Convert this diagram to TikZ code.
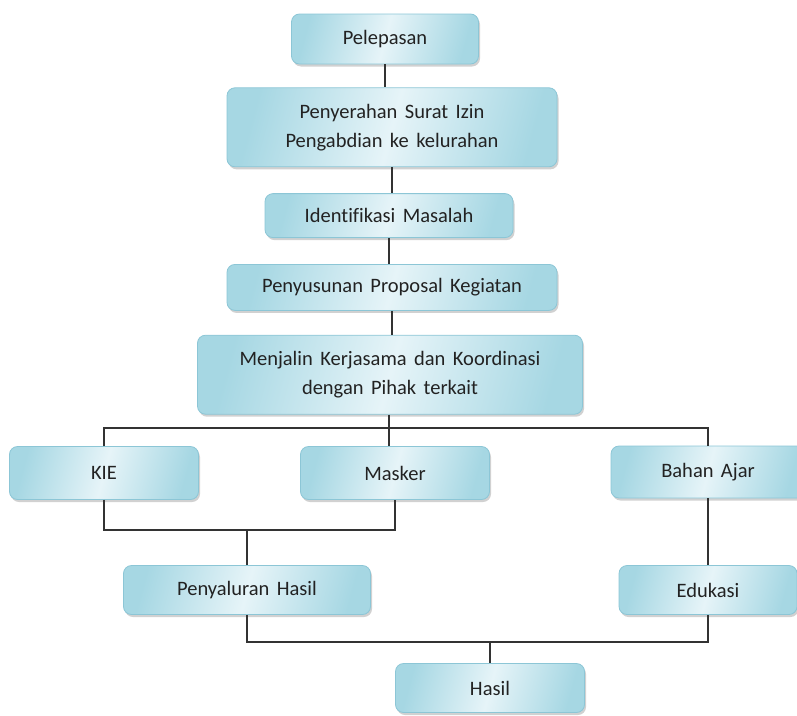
\documentclass[tikz,border=0pt]{standalone}
\usepackage{fontspec}
\setmainfont{Carlito}[WordSpace=1.6,Ligatures=NoCommon]
\usetikzlibrary{positioning,shadows}
\definecolor{boxedge}{HTML}{8CC6D6}
\definecolor{boxdark}{HTML}{A6D7E3}
\definecolor{boxlight}{HTML}{E6F4F8}
\definecolor{boxtext}{HTML}{222222}
\tikzset{
flowbox/.style={rectangle,rounded corners=8pt,draw=boxedge,line width=0.8pt,
  left color=boxdark,right color=boxdark,middle color=boxlight,shading angle=75,
  drop shadow={shadow xshift=1.5pt,shadow yshift=-2.5pt,opacity=0.3,fill=black!60},
  text=boxtext,align=center,inner sep=2pt,
  font=\fontsize{20.5}{29}\selectfont},
flowline/.style={draw=black!80,line width=1.1pt}
}

\begin{document}
\begin{tikzpicture}[x=1pt,y=1pt]
\useasboundingbox (0,0) rectangle (797,-715);
% main column
\node[flowbox,minimum width=187pt,minimum height=50pt] (lepas) at (385,-39) {Pelepasan};
\node[flowbox,minimum width=330pt,minimum height=79pt,below=23pt of lepas,xshift=7pt] (izin) {Penyerahan Surat Izin\\Pengabdian ke kelurahan};
\node[flowbox,minimum width=248pt,minimum height=44pt,below=26pt of izin,xshift=-3pt] (ident) {Identifikasi Masalah};
\node[flowbox,minimum width=330pt,minimum height=46pt,below=26pt of ident,xshift=3pt] (prop) {Penyusunan Proposal Kegiatan};
\node[flowbox,minimum width=385pt,minimum height=79pt,below=24pt of prop,xshift=-2pt] (kerja) {Menjalin Kerjasama dan Koordinasi\\dengan Pihak terkait};
% branches
\node[flowbox,minimum width=189pt,minimum height=53pt] (kie) at (104,-473) {KIE};
\node[flowbox,minimum width=189pt,minimum height=53pt] (masker) at (395,-473) {Masker};
\node[flowbox,minimum width=194pt,minimum height=52pt] (ajar) at (708,-472) {Bahan Ajar};
\node[flowbox,minimum width=247pt,minimum height=49pt] (salur) at (247,-590) {Penyaluran Hasil};
\node[flowbox,minimum width=178pt,minimum height=49pt] (edu) at (708,-590) {Edukasi};
\node[flowbox,minimum width=189pt,minimum height=49pt] (hasil) at (490,-688) {Hasil};
\coordinate (split) at (389,-428);
\coordinate (kmjoin) at (247,-530);
\coordinate (hjoin) at (490,-642);
% connectors
\draw[flowline] (lepas.south) -- (lepas.south |- izin.north);
\draw[flowline] (izin.south) -- (izin.south |- ident.north);
\draw[flowline] (ident.south) -- (ident.south |- prop.north);
\draw[flowline] (prop.south) -- (prop.south |- kerja.north);
\draw[flowline] (kerja.south -| split) -- (split |- masker.north);
\draw[flowline] (kie.north) |- (split) -| (ajar.north);
\draw[flowline] (kie.south) |- (kmjoin) -| (masker.south);
\draw[flowline] (kmjoin) -- (salur.north);
\draw[flowline] (ajar.south) -- (edu.north);
\draw[flowline] (salur.south) |- (edu.south |- hjoin) -- (edu.south);
\draw[flowline] (hjoin) -- (hasil.north);
\end{tikzpicture}
\end{document}
